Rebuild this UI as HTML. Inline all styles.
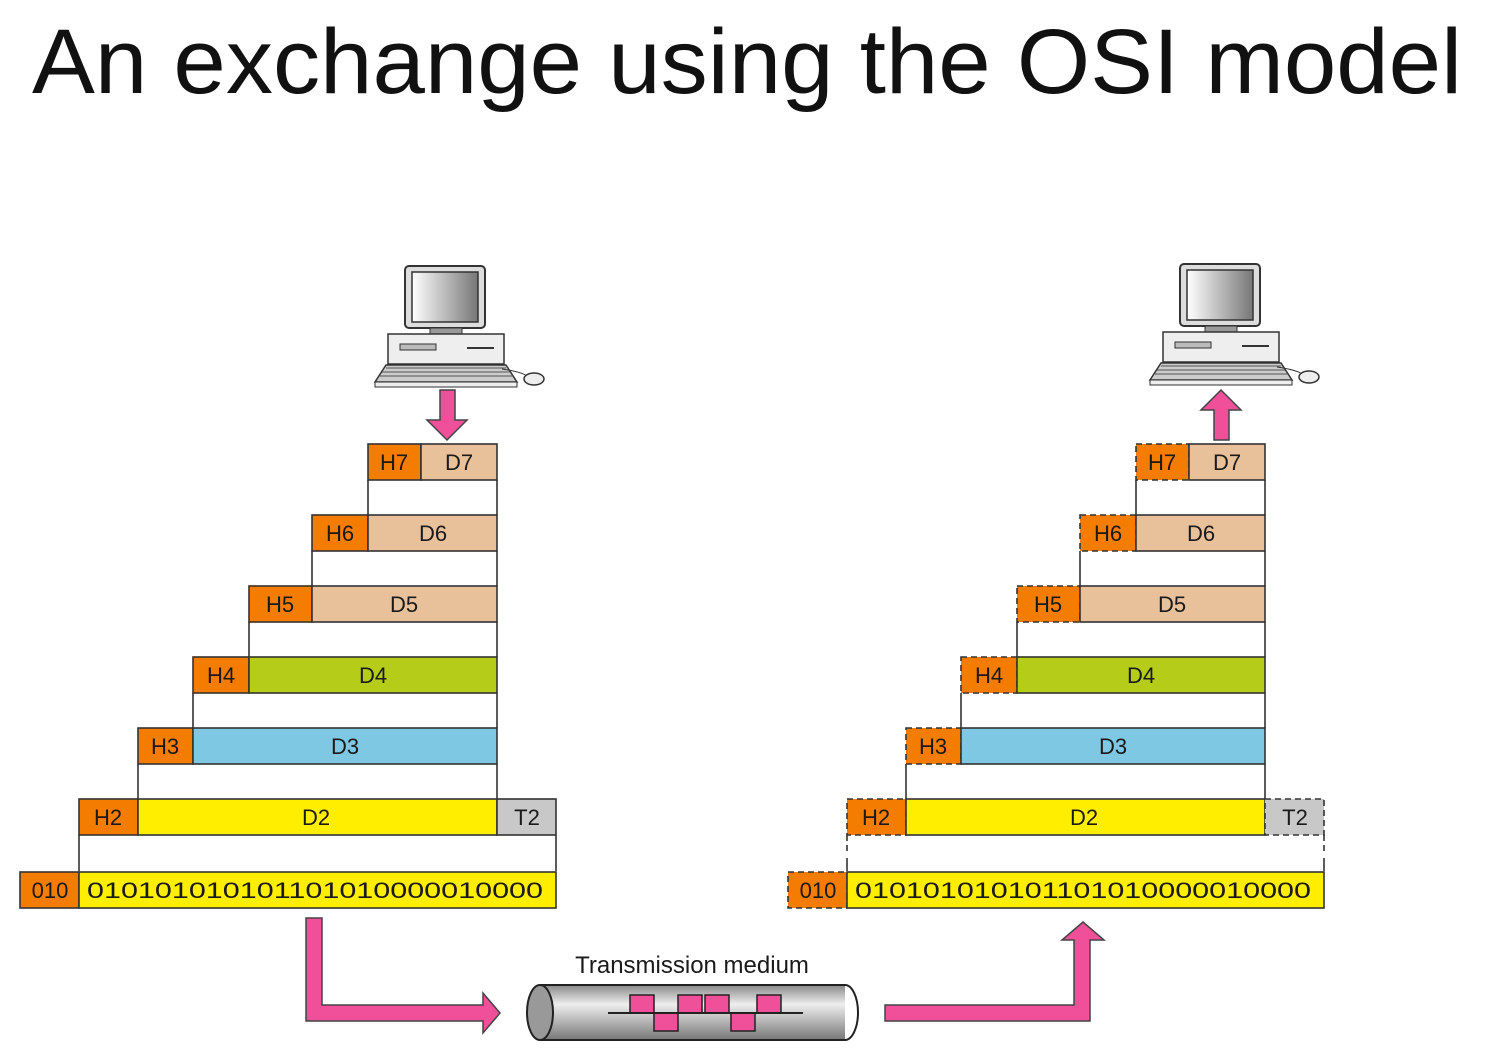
<!DOCTYPE html>
<html><head><meta charset="utf-8"><style>
html,body{margin:0;padding:0;background:#fff;}
svg{display:block;}
text{font-family:"Liberation Sans",sans-serif;fill:#1a1a1a;}
.b{stroke:#333;stroke-width:1.6;}
.l{stroke:#333;stroke-width:1.6;}
.t{font-size:22px;text-anchor:middle;}
.ar{fill:#f0509a;stroke:#444;stroke-width:1.5;}
</style></head><body>
<svg width="1507" height="1063" viewBox="0 0 1507 1063" xmlns="http://www.w3.org/2000/svg">
<defs>
<linearGradient id="scr" x1="0" y1="0" x2="1" y2="0"><stop offset="0" stop-color="#fff"/><stop offset="1" stop-color="#777"/></linearGradient>
<linearGradient id="cyl" x1="0" y1="0" x2="0" y2="1"><stop offset="0" stop-color="#888"/><stop offset="0.35" stop-color="#eee"/><stop offset="1" stop-color="#777"/></linearGradient>
<g id="pc">
<rect x="33" y="2" width="80" height="62" rx="4" fill="#ddd" stroke="#333" stroke-width="2"/>
<rect x="40" y="8" width="66" height="50" fill="url(#scr)" stroke="#333" stroke-width="1.5"/>
<rect x="58" y="64" width="32" height="6" fill="#999" stroke="#333"/>
<rect x="16" y="70" width="116" height="30" fill="#eee" stroke="#333" stroke-width="1.5"/>
<rect x="28" y="80" width="36" height="6" fill="#bbb" stroke="#333"/>
<line x1="95" y1="84" x2="122" y2="84" stroke="#333" stroke-width="2"/>
<polygon points="14,101 134,101 145,118 3,118" fill="#ccc" stroke="#333" stroke-width="1.5"/>
<path d="M14 104 H134 M10 108 H138 M7 112 H141" stroke="#555" stroke-width="1"/>
<rect x="3" y="118" width="142" height="5" fill="#eee" stroke="#333"/>
<path d="M130 105 Q150 108 155 112" stroke="#333" fill="none"/>
<ellipse cx="162" cy="115" rx="10" ry="6" fill="#eee" stroke="#333" stroke-width="1.5"/>
</g>
</defs>

<text x="32" y="93" font-size="92" textLength="1430" lengthAdjust="spacingAndGlyphs" style="fill:#111">An exchange using the OSI model</text>

<use href="#pc" x="372" y="264"/>
<use href="#pc" x="1147" y="262"/>

<polygon class="ar" points="440,390 455,390 455,420 467,420 447,440 427,420 440,420"/>
<polygon class="ar" points="1214,440 1229,440 1229,410 1241,410 1221,390 1201,410 1214,410"/>

<g>
<rect class="b" x="368" y="444" width="53" height="36" fill="#f47c00"/><rect class="b" x="421" y="444" width="76" height="36" fill="#e8c09a"/>
<text class="t" x="394" y="470">H7</text><text class="t" x="459" y="470">D7</text>
<line class="l" x1="368" y1="480" x2="368" y2="515"/><line class="l" x1="497" y1="480" x2="497" y2="515"/>
<rect class="b" x="312" y="515" width="56" height="36" fill="#f47c00"/><rect class="b" x="368" y="515" width="129" height="36" fill="#e8c09a"/>
<text class="t" x="340" y="541">H6</text><text class="t" x="433" y="541">D6</text>
<line class="l" x1="312" y1="551" x2="312" y2="586"/><line class="l" x1="497" y1="551" x2="497" y2="586"/>
<rect class="b" x="249" y="586" width="63" height="36" fill="#f47c00"/><rect class="b" x="312" y="586" width="185" height="36" fill="#e8c09a"/>
<text class="t" x="280" y="612">H5</text><text class="t" x="404" y="612">D5</text>
<line class="l" x1="249" y1="622" x2="249" y2="657"/><line class="l" x1="497" y1="622" x2="497" y2="657"/>
<rect class="b" x="193" y="657" width="56" height="36" fill="#f47c00"/><rect class="b" x="249" y="657" width="248" height="36" fill="#b5cc18"/>
<text class="t" x="221" y="683">H4</text><text class="t" x="373" y="683">D4</text>
<line class="l" x1="193" y1="693" x2="193" y2="728"/><line class="l" x1="497" y1="693" x2="497" y2="728"/>
<rect class="b" x="138" y="728" width="55" height="36" fill="#f47c00"/><rect class="b" x="193" y="728" width="304" height="36" fill="#7ec8e3"/>
<text class="t" x="165" y="754">H3</text><text class="t" x="345" y="754">D3</text>
<line class="l" x1="138" y1="764" x2="138" y2="799"/><line class="l" x1="497" y1="764" x2="497" y2="799"/>
<rect class="b" x="79" y="799" width="59" height="36" fill="#f47c00"/><rect class="b" x="138" y="799" width="359" height="36" fill="#ffee00"/><rect class="b" x="497" y="799" width="59" height="36" fill="#c8c8c8"/>
<text class="t" x="108" y="825">H2</text><text class="t" x="316" y="825">D2</text><text class="t" x="527" y="825">T2</text>
<line class="l" x1="79" y1="835" x2="79" y2="871"/><line class="l" x1="556" y1="835" x2="556" y2="871"/>
<rect class="b" x="20" y="872" width="59" height="36" fill="#f47c00"/><rect class="b" x="79" y="872" width="477" height="36" fill="#ffee00"/>
<text class="t" x="50" y="898">010</text>
<text x="87" y="898" font-size="22" textLength="456" lengthAdjust="spacingAndGlyphs">010101010101101010000010000</text>
</g>

<g transform="translate(768,0)">
<rect class="b" x="368" y="444" width="53" height="36" fill="#f47c00" stroke-dasharray="6,4"/><rect class="b" x="421" y="444" width="76" height="36" fill="#e8c09a"/>
<text class="t" x="394" y="470">H7</text><text class="t" x="459" y="470">D7</text>
<line class="l" x1="368" y1="480" x2="368" y2="515"/><line class="l" x1="497" y1="480" x2="497" y2="515"/>
<rect class="b" x="312" y="515" width="56" height="36" fill="#f47c00" stroke-dasharray="6,4"/><rect class="b" x="368" y="515" width="129" height="36" fill="#e8c09a"/>
<text class="t" x="340" y="541">H6</text><text class="t" x="433" y="541">D6</text>
<line class="l" x1="312" y1="551" x2="312" y2="586"/><line class="l" x1="497" y1="551" x2="497" y2="586"/>
<rect class="b" x="249" y="586" width="63" height="36" fill="#f47c00" stroke-dasharray="6,4"/><rect class="b" x="312" y="586" width="185" height="36" fill="#e8c09a"/>
<text class="t" x="280" y="612">H5</text><text class="t" x="404" y="612">D5</text>
<line class="l" x1="249" y1="622" x2="249" y2="657"/><line class="l" x1="497" y1="622" x2="497" y2="657"/>
<rect class="b" x="193" y="657" width="56" height="36" fill="#f47c00" stroke-dasharray="6,4"/><rect class="b" x="249" y="657" width="248" height="36" fill="#b5cc18"/>
<text class="t" x="221" y="683">H4</text><text class="t" x="373" y="683">D4</text>
<line class="l" x1="193" y1="693" x2="193" y2="728"/><line class="l" x1="497" y1="693" x2="497" y2="728"/>
<rect class="b" x="138" y="728" width="55" height="36" fill="#f47c00" stroke-dasharray="6,4"/><rect class="b" x="193" y="728" width="304" height="36" fill="#7ec8e3"/>
<text class="t" x="165" y="754">H3</text><text class="t" x="345" y="754">D3</text>
<line class="l" x1="138" y1="764" x2="138" y2="799"/><line class="l" x1="497" y1="764" x2="497" y2="799"/>
<rect class="b" x="79" y="799" width="59" height="36" fill="#f47c00" stroke-dasharray="6,4"/><rect class="b" x="138" y="799" width="359" height="36" fill="#ffee00"/><rect class="b" x="497" y="799" width="59" height="36" fill="#c8c8c8" stroke-dasharray="6,4"/>
<text class="t" x="108" y="825">H2</text><text class="t" x="316" y="825">D2</text><text class="t" x="527" y="825">T2</text>
<line class="l" x1="79" y1="835" x2="79" y2="852" stroke-dasharray="6,4"/><line class="l" x1="556" y1="835" x2="556" y2="852" stroke-dasharray="6,4"/>
<line class="l" x1="79" y1="858" x2="79" y2="871"/><line class="l" x1="556" y1="858" x2="556" y2="871"/>
<rect class="b" x="20" y="872" width="59" height="36" fill="#f47c00" stroke-dasharray="6,4"/><rect class="b" x="79" y="872" width="477" height="36" fill="#ffee00"/>
<text class="t" x="50" y="898">010</text>
<text x="87" y="898" font-size="22" textLength="456" lengthAdjust="spacingAndGlyphs">010101010101101010000010000</text>
</g>

<polygon class="ar" points="306,918 322,918 322,1005 483,1005 483,993 500,1013 483,1033 483,1021 306,1021"/>
<polygon class="ar" points="885,1005 1074,1005 1074,940 1062,940 1083,922 1104,940 1090,940 1090,1021 885,1021"/>

<text x="692" y="973" font-size="24" text-anchor="middle">Transmission medium</text>
<rect x="540" y="985" width="305" height="55" fill="url(#cyl)"/>
<line x1="540" y1="985" x2="845" y2="985" stroke="#222" stroke-width="2"/>
<line x1="540" y1="1040" x2="845" y2="1040" stroke="#222" stroke-width="2"/>
<path d="M845 985 A13 27.5 0 0 1 845 1040" fill="none" stroke="#222" stroke-width="2"/>
<ellipse cx="540" cy="1012.5" rx="13" ry="27.5" fill="#999" stroke="#222" stroke-width="2"/>
<g stroke="#222" stroke-width="1.5" fill="#f0509a">
<rect x="630" y="995" width="24" height="18"/>
<rect x="654" y="1013" width="24" height="18"/>
<rect x="678" y="995" width="24" height="18"/>
<rect x="705" y="995" width="24" height="18"/>
<rect x="731" y="1013" width="24" height="18"/>
<rect x="757" y="995" width="24" height="18"/>
</g>
<line x1="608" y1="1013" x2="803" y2="1013" stroke="#222" stroke-width="2"/>
</svg>
</body></html>
